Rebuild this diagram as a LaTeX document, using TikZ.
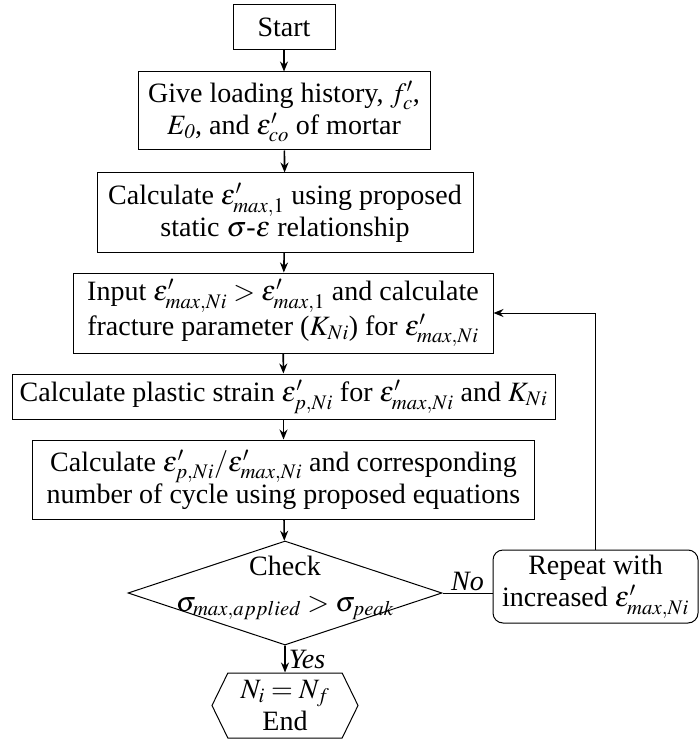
\documentclass[tikz,border=0pt]{standalone}
\usepackage{mathptmx}
\usepackage{fontspec}
\setmainfont{Liberation Serif}
\usepackage{tikz}
\usetikzlibrary{arrows.meta,shapes.geometric,shapes.symbols}

\begin{document}
\begin{tikzpicture}[x=1pt,y=-1pt,->,>={Stealth[length=10pt,width=8pt]},line width=1.6pt,
    every node/.style={font=\fontsize{28}{32}\selectfont,align=center,inner sep=2pt},
    box/.style={draw,rectangle,line width=1pt},
    decision/.style={draw,diamond,line width=1pt,minimum width=314,minimum height=104,inner sep=0pt},
    term/.style={draw,signal,signal to=west and east,signal pointer angle=128,line width=1pt,minimum width=146,minimum height=65,inner sep=0pt},
    rbox/.style={draw,rectangle,rounded corners=10pt,line width=1pt,minimum width=205,minimum height=73}]

      \useasboundingbox (0,0) rectangle (700,743);

      \node[box,minimum width=102,minimum height=45] (start) at (284,27.5) {Start};
      \node[box,minimum width=292,minimum height=78] (give) at (284,111) {Give loading history, $f'_c$,\\ $E_{\mathit{0}}$, and $\varepsilon'_{co}$ of mortar};
      \node[box,minimum width=376,minimum height=79] (calc) at (285,212.5) {Calculate $\varepsilon'_{max,1}$ using proposed\\ static $\sigma$-$\varepsilon$ relationship};
      \node[box,minimum width=420,minimum height=80] (input) at (283,313) {Input $\varepsilon'_{max,Ni} > \varepsilon'_{max,1}$ and calculate\\ fracture parameter ($K_{Ni}$) for $\varepsilon'_{max,Ni}$};
      \node[box,minimum width=543,minimum height=45] (plastic) at (283.5,396.5) {Calculate plastic strain $\varepsilon'_{p,Ni}$ for $\varepsilon'_{max,Ni}$ and $K_{Ni}$};
      \node[box,minimum width=502,minimum height=79] (ratio) at (283.5,479.5) {Calculate $\varepsilon'_{p,Ni}/\varepsilon'_{max,Ni}$ and corresponding\\ number of cycle using proposed equations};

      \node[decision] (check) at (285,593) {};
      \node (checktxt) at (285,588) {Check\\[4pt] $\sigma_{max,applied} > \sigma_{peak}$};

      \node[term] (finish) at (285,705.5) {$N_i = N_f$\\ End};
      \node[rbox] (repeat) at (595.5,586.5) {Repeat with\\ increased $\varepsilon'_{max,Ni}$};

  \foreach \from/\to in {start/give, give/calc, calc/input, input/plastic, plastic/ratio, ratio/check, check/finish}
     \draw (\from) -- (\to);

      \node[right] (yes) at (286,659) {\textit{Yes}};
      \draw[-,line width=1pt] (check.east) -- node[above] (no) {\textit{No}} (check.east -| repeat.west);
      \draw[line width=1pt] (repeat.north) |- (input.east);

\end{tikzpicture}
\end{document}
